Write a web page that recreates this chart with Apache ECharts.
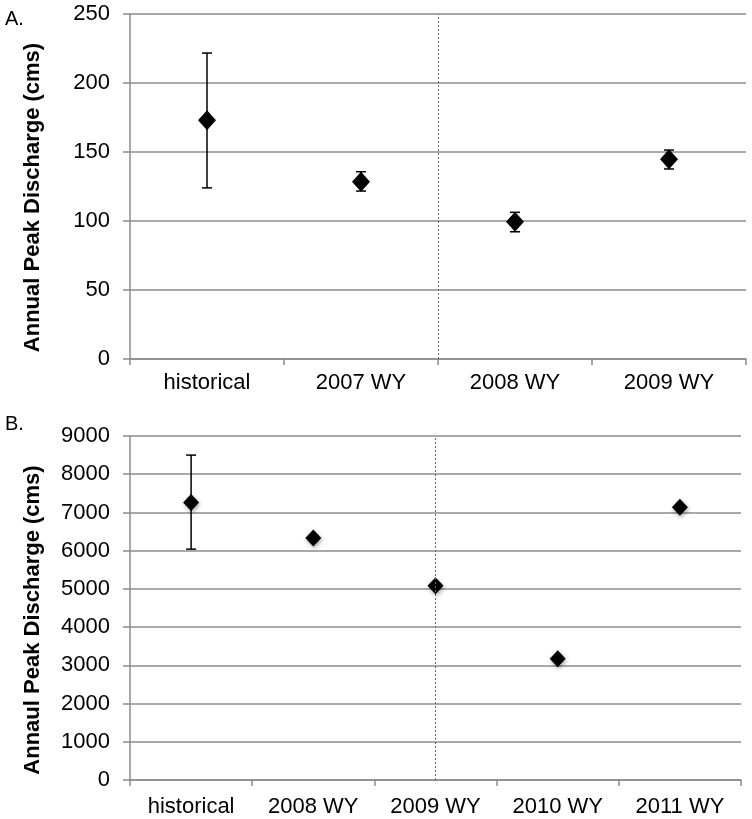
<!DOCTYPE html>
<html>
<head>
<meta charset="utf-8">
<script src="https://cdn.jsdelivr.net/npm/echarts@6/dist/echarts.min.js"></script>
<style>
    html, body {margin: 0; padding: 0; background: #fff;}
    #chart {width: 752px; height: 819px;}
</style>
</head>
<body>
<div id="chart"></div>
<script>
// panel A
const catsA = ['historical', '2007 WY', '2008 WY', '2009 WY'];
const peakA = [173, 128.5, 99.5, 144.7];
const lowA = [124, 121.7, 92.2, 137.7];
const highA = [221.7, 135.7, 106.3, 151.4];
const ticksA = [0, 50, 100, 150, 200, 250];

// panel B
const catsB = ['historical', '2008 WY', '2009 WY', '2010 WY', '2011 WY'];
const peakB = [7260, 6330, 5080, 3170, 7135];
const lowB = [6040, null, null, null, null];
const highB = [8500, null, null, null, null];
const ticksB = [0, 1000, 2000, 3000, 4000, 5000, 6000, 7000, 8000, 9000];

const font = 'Liberation Sans, Arial, sans-serif';
const gridColor = '#8c8c8c';

function errorData(cats, low, high) {
    const out = [];
    for (let i = 0; i < cats.length; i++) {
        if (low[i] != null) out.push([i, low[i], high[i]]);
    }
    return out;
}

function errorBars(xIndex, yIndex, data) {
    return {
        type: 'custom',
        xAxisIndex: xIndex,
        yAxisIndex: yIndex,
        data: data,
        z: 1,
        renderItem: function (params, api) {
            const lo = api.coord([api.value(0), api.value(1)]);
            const hi = api.coord([api.value(0), api.value(2)]);
            const w = 5;
            const style = {stroke: '#000', lineWidth: 1.5};
            return {
                type: 'group',
                children: [
                    {type: 'line', shape: {x1: lo[0], y1: lo[1], x2: hi[0], y2: hi[1]}, style: style},
                    {type: 'line', shape: {x1: lo[0] - w, y1: lo[1], x2: lo[0] + w, y2: lo[1]}, style: style},
                    {type: 'line', shape: {x1: hi[0] - w, y1: hi[1], x2: hi[0] + w, y2: hi[1]}, style: style}
                ]
            };
        }
    };
}

function yAxis(gridIndex, ticks, name, shift) {
    return {
        type: 'value',
        gridIndex: gridIndex,
        min: ticks[0],
        max: ticks[ticks.length - 1],
        interval: ticks[1] - ticks[0],
        name: name,
        nameLocation: 'middle',
        nameGap: 86,
        nameTextStyle: {
            fontFamily: font, fontSize: 22, fontWeight: 'bold', color: '#000',
            padding: [0, shift, 0, 0]
        },
        axisLine: {show: true, lineStyle: {color: gridColor, width: 1.5}},
        axisTick: {show: true, length: 7, lineStyle: {color: gridColor, width: 1.5}},
        axisLabel: {
            fontFamily: font, fontSize: 22, color: '#000', margin: 20,
            formatter: function (v) { return String(v); }
        },
        splitLine: {lineStyle: {color: gridColor, width: 1.5}}
    };
}

function xAxis(gridIndex, cats, margin) {
    return {
        type: 'category',
        gridIndex: gridIndex,
        data: cats,
        boundaryGap: true,
        axisLine: {lineStyle: {color: gridColor, width: 1.5}},
        axisTick: {show: true, length: 6, lineStyle: {color: gridColor, width: 1.5}},
        axisLabel: {fontFamily: font, fontSize: 22, color: '#000', margin: margin, interval: 0},
        splitLine: {show: false}
    };
}

const chart = echarts.init(document.getElementById('chart'), null, {renderer: 'canvas'});

const option = {
    animation: false,
    backgroundColor: '#fff',
    graphic: [
        {type: 'text', left: 5, top: 9, style: {text: 'A.', fontFamily: font, fontSize: 20, fill: '#000'}},
        {type: 'text', left: 5, top: 414, style: {text: 'B.', fontFamily: font, fontSize: 20, fill: '#000'}}
    ],
    grid: [
        {left: 130, right: 6, top: 14, height: 345},
        {left: 130, right: 11, top: 436, height: 344}
    ],
    xAxis: [
        xAxis(0, catsA, 13),
        xAxis(1, catsB, 16),
        // hidden helper axis so the divider in panel A sits on a category boundary
        {type: 'value', gridIndex: 0, min: 0, max: catsA.length, show: false}
    ],
    yAxis: [
        yAxis(0, ticksA, 'Annual Peak Discharge (cms)', 22),
        yAxis(1, ticksB, 'Annaul Peak Discharge (cms)', 24)
    ],
    series: [
        {
            type: 'line',
            xAxisIndex: 2,
            yAxisIndex: 0,
            data: [],
            markLine: {
                silent: true,
                symbol: 'none',
                label: {show: false},
                lineStyle: {color: '#666', type: [2, 2], width: 1},
                data: [{xAxis: 2}]
            }
        },
        errorBars(0, 0, errorData(catsA, lowA, highA)),
        {
            type: 'scatter',
            xAxisIndex: 0,
            yAxisIndex: 0,
            symbol: 'diamond',
            symbolSize: [18, 20],
            itemStyle: {color: '#000', opacity: 1},
            z: 3,
            data: peakA
        },
        errorBars(1, 1, errorData(catsB, lowB, highB)),
        {
            type: 'scatter',
            xAxisIndex: 1,
            yAxisIndex: 1,
            symbol: 'diamond',
            symbolSize: [16, 17],
            itemStyle: {
                color: '#000',
                opacity: 1,
                shadowColor: 'rgba(0,0,0,0.35)',
                shadowBlur: 4,
                shadowOffsetX: 1,
                shadowOffsetY: 2
            },
            z: 3,
            data: peakB,
            markLine: {
                silent: true,
                symbol: 'none',
                label: {show: false},
                lineStyle: {color: '#666', type: [2, 2], width: 1},
                data: [{xAxis: '2009 WY'}]
            }
        }
    ]
};

option && chart.setOption(option);
</script>
</body>
</html>
